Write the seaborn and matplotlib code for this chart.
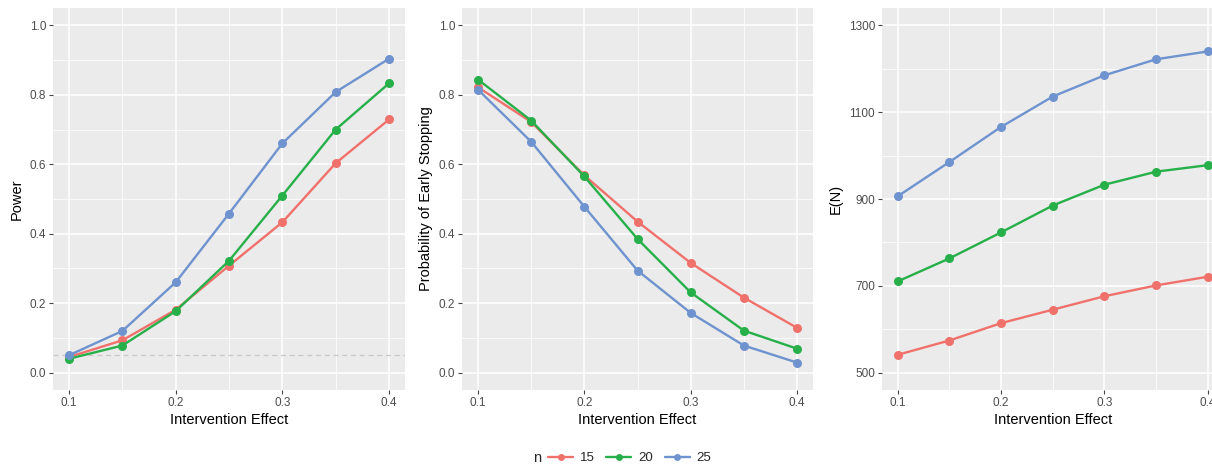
import numpy as np
import pandas as pd
import matplotlib
matplotlib.use("Agg")
import matplotlib.pyplot as plt
from matplotlib.ticker import FixedLocator
from matplotlib.lines import Line2D
import seaborn as sns

# ---- data ----
effect = [0.10, 0.15, 0.20, 0.25, 0.30, 0.35, 0.40]
n_levels = ["15", "20", "25"]

power_15 = [0.045, 0.093, 0.181, 0.308, 0.433, 0.603, 0.729]
power_20 = [0.040, 0.078, 0.177, 0.322, 0.510, 0.700, 0.833]
power_25 = [0.050, 0.120, 0.260, 0.458, 0.660, 0.808, 0.904]

early_15 = [0.822, 0.722, 0.568, 0.435, 0.316, 0.216, 0.129]
early_20 = [0.844, 0.726, 0.565, 0.385, 0.231, 0.121, 0.069]
early_25 = [0.815, 0.665, 0.478, 0.294, 0.172, 0.078, 0.029]

en_15 = [541, 574, 614, 645, 676, 701, 721]
en_20 = [710, 763, 823, 885, 933, 963, 978]
en_25 = [906, 985, 1066, 1136, 1185, 1222, 1240]

alpha_level = 0.05

x_ticks = [0.1, 0.2, 0.3, 0.4]
prob_ticks = [0.0, 0.2, 0.4, 0.6, 0.8, 1.0]
en_ticks = [500, 700, 900, 1100, 1300]

palette = {"15": "#F0716B", "20": "#27B04A", "25": "#6F93CF"}

def long_df(a, b, c):
    rows = []
    for lvl, vals in zip(n_levels, (a, b, c)):
        for x, v in zip(effect, vals):
            rows.append({"effect": x, "value": v, "n": lvl})
    return pd.DataFrame(rows)

df_power = long_df(power_15, power_20, power_25)
df_early = long_df(early_15, early_20, early_25)
df_en = long_df(en_15, en_20, en_25)

# ---- style ----
sns.set_theme(style="darkgrid")
plt.rcParams.update({
    "axes.facecolor": "#EBEBEB",
    "figure.facecolor": "white",
    "grid.color": "white",
    "axes.edgecolor": "#EBEBEB",
    "font.family": ["Liberation Sans", "DejaVu Sans"],
})

W, H = 1212, 468
fig = plt.figure(figsize=(W / 100, H / 100), dpi=100)

def px_axes(left, right, top, bottom):
    return fig.add_axes([left / W, (H - bottom) / H, (right - left) / W, (bottom - top) / H])

ax1 = px_axes(53, 405, 8, 390)
ax2 = px_axes(462, 813, 8, 390)
ax3 = px_axes(882, 1223.5, 8, 390)

specs = [
    (ax1, df_power, "Power", prob_ticks, "{:.1f}"),
    (ax2, df_early, "Probability of Early Stopping", prob_ticks, "{:.1f}"),
    (ax3, df_en, "E(N)", en_ticks, "{:.0f}"),
]

for ax, df, ylabel, yt, fmt in specs:
    sns.lineplot(data=df, x="effect", y="value", hue="n", hue_order=n_levels,
                 palette=palette, marker="o", markersize=6.5, markeredgewidth=0,
                 linewidth=1.7, ax=ax, legend=False)
    lo, hi = yt[0], yt[-1]
    pad_y = 0.05 * (hi - lo)
    ax.set_ylim(lo - pad_y, hi + pad_y)
    ax.set_xlim(0.1 - 0.015, 0.4 + 0.015)
    ax.xaxis.set_major_locator(FixedLocator(x_ticks))
    ax.xaxis.set_minor_locator(FixedLocator([(a + b) / 2 for a, b in zip(x_ticks[:-1], x_ticks[1:])]))
    ax.yaxis.set_major_locator(FixedLocator(yt))
    ax.yaxis.set_minor_locator(FixedLocator([(a + b) / 2 for a, b in zip(yt[:-1], yt[1:])]))
    ax.set_yticklabels([fmt.format(v) for v in yt])
    ax.set_xticklabels([f"{v:.1f}" for v in x_ticks])
    ax.grid(True, which="major", color="white", linewidth=1.1)
    ax.grid(True, which="minor", color="white", linewidth=0.55)
    ax.set_axisbelow(True)
    for s in ax.spines.values():
        s.set_visible(False)
    ax.tick_params(axis="both", which="major", length=3, width=0.8, color="#444444",
                   labelsize=8.5, labelcolor="#4D4D4D", pad=2, bottom=True, left=True)
    ax.tick_params(axis="both", which="minor", length=0)
    ax.set_xlabel("Intervention Effect", fontsize=10.5, color="black", labelpad=3)
    ax.set_ylabel(ylabel, fontsize=10.5, color="black", labelpad=4)

ax1.axhline(alpha_level, color="#C8C8C8", linestyle=(0, (4, 3)), linewidth=0.9, zorder=1.5)

# ---- legend ----
handles = [Line2D([0], [0], color=palette[l], marker="o", markersize=5,
                  markeredgewidth=0, linewidth=1.7) for l in n_levels]
leg = fig.legend(handles, n_levels, ncol=3, loc="center left",
                 bbox_to_anchor=(548 / W, 1 - 458 / H),
                 frameon=False, fontsize=9.5, handlelength=1.9, handletextpad=0.5,
                 columnspacing=0.9, borderaxespad=0, borderpad=0)
fig.text(537 / W, 1 - 458 / H, "n", fontsize=10.5, ha="center", va="center")

fig.savefig("out.png", dpi=100)
